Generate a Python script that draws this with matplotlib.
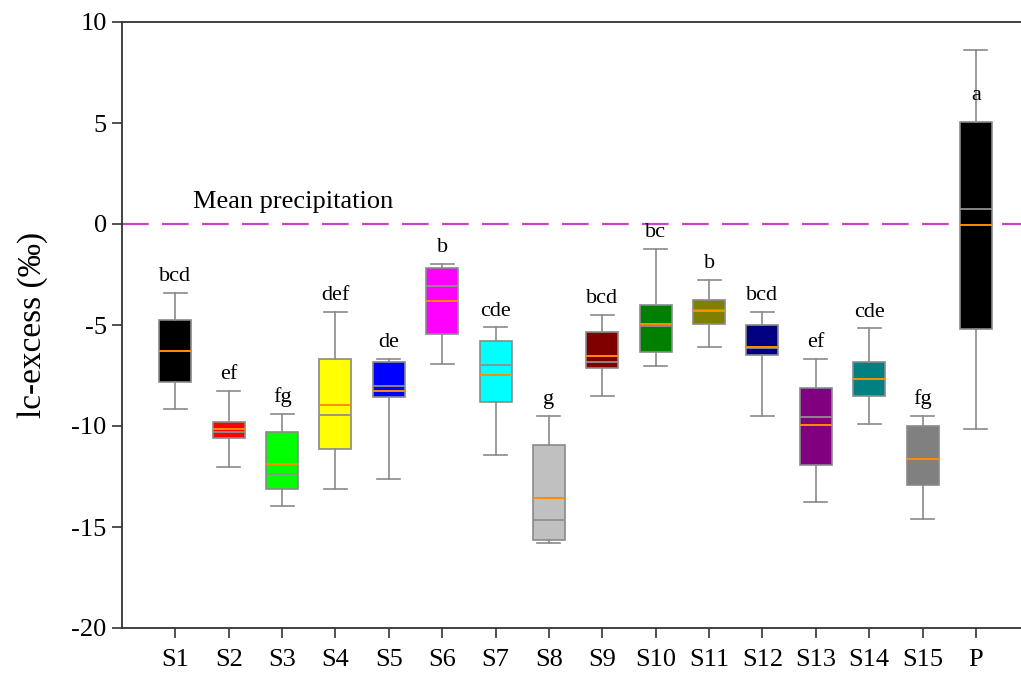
import matplotlib
matplotlib.use("Agg")
import matplotlib.pyplot as plt

# ---------------- data ----------------
categories = ["S1", "S2", "S3", "S4", "S5", "S6", "S7", "S8", "S9", "S10",
              "S11", "S12", "S13", "S14", "S15", "P"]
whisker_low = [-9.16, -12.03, -13.98, -13.10, -12.64, -6.93, -11.44, -15.78,
               -8.51, -7.01, -6.10, -9.52, -13.76, -9.90, -14.62, -10.16]
q1 = [-7.82, -10.61, -13.10, -11.12, -8.56, -5.46, -8.83, -15.64,
      -7.11, -6.32, -4.97, -6.47, -11.95, -8.53, -12.92, -5.18]
medians = [-6.29, -10.13, -11.90, -8.98, -8.27, -3.81, -7.49, -13.56,
           -6.55, -4.93, -4.31, -6.09, -9.97, -7.69, -11.62, -0.05]
means = [-6.29, -10.28, -12.36, -9.46, -8.00, -3.08, -6.96, -14.67,
         -6.82, -5.07, -4.28, -6.16, -9.54, -7.66, -11.62, 0.73]
q3 = [-4.75, -9.80, -10.31, -6.68, -6.83, -2.19, -5.79, -10.94,
      -5.35, -4.01, -3.75, -4.98, -8.13, -6.85, -9.98, 5.05]
whisker_high = [-3.42, -8.25, -9.42, -4.37, -6.67, -1.96, -5.12, -9.49,
                -4.49, -1.22, -2.76, -4.34, -6.67, -5.17, -9.50, 8.60]
letters = ["bcd", "ef", "fg", "def", "de", "b", "cde", "g", "bcd", "bc",
           "b", "bcd", "ef", "cde", "fg", "a"]
box_colors = ["#000000", "#ff0000", "#00ff00", "#ffff00", "#0000ff", "#ff00ff",
              "#00ffff", "#c0c0c0", "#800000", "#008000", "#808000", "#000080",
              "#800080", "#008080", "#808080", "#000000"]
mean_precipitation = 0.0
y_ticks = [-20, -15, -10, -5, 0, 5, 10]

# ---------------- figure ----------------
plt.rcParams['font.family'] = ['Liberation Serif', 'DejaVu Serif']
W, H = 1021, 677
fig = plt.figure(figsize=(W / 100, H / 100), dpi=100)
ax_w = 17 * 53.37
ax = fig.add_axes([122 / W, (H - 628) / H, ax_w / W, (628 - 22) / H])

stats = []
for i, name in enumerate(categories):
    stats.append(dict(label=name, whislo=whisker_low[i], q1=q1[i], med=medians[i],
                      mean=means[i], q3=q3[i], whishi=whisker_high[i], fliers=[]))

positions = list(range(1, len(categories) + 1))
edge = "#8a8a8a"
bp = ax.bxp(stats, positions=positions, widths=0.6, capwidths=0.43,
            patch_artist=True, showmeans=True, meanline=True, showfliers=False,
            boxprops=dict(edgecolor=edge, linewidth=1.2),
            whiskerprops=dict(color=edge, linewidth=1.2),
            capprops=dict(color=edge, linewidth=1.2),
            medianprops=dict(color="#ff8c00", linewidth=1.4, zorder=3),
            meanprops=dict(color="#909090", linewidth=1.3, linestyle='-', zorder=2.5))
for patch, c in zip(bp['boxes'], box_colors):
    patch.set_facecolor(c)

ax.axhline(mean_precipitation, color="#cc44cc", linewidth=1.6,
           dashes=(12, 6), zorder=0.5)
ax.text(1.33, mean_precipitation + 0.8, "Mean precipitation", fontsize=19,
        ha='left', va='baseline')

for i, name in enumerate(categories):
    base = q3[i] if name == "P" else whisker_high[i]
    off = 16 if name == "P" else 8.5
    ax.annotate(letters[i], (positions[i], base), xytext=(0, off),
                textcoords='offset points', ha='center', va='baseline',
                fontsize=16)

ax.set_xlim(0, 17)
ax.set_ylim(-20, 10)
ax.set_yticks(y_ticks)
ax.set_yticklabels([str(v) for v in y_ticks])
ax.set_xticks(positions)
ax.set_xticklabels(categories)
ax.tick_params(axis='both', direction='out', length=7, width=1.2,
               labelsize=19, color="#333333")
ax.tick_params(axis='x', pad=8)
ax.tick_params(axis='y', pad=4)
for s in ['left', 'bottom', 'top']:
    ax.spines[s].set_linewidth(1.3)
    ax.spines[s].set_color("#333333")
ax.spines['right'].set_visible(False)
ax.set_ylabel("lc-excess (‰)", fontsize=24)
ax.yaxis.set_label_coords((48 - 122) / ax_w, 0.5)

fig.savefig("out.png", dpi=100)
